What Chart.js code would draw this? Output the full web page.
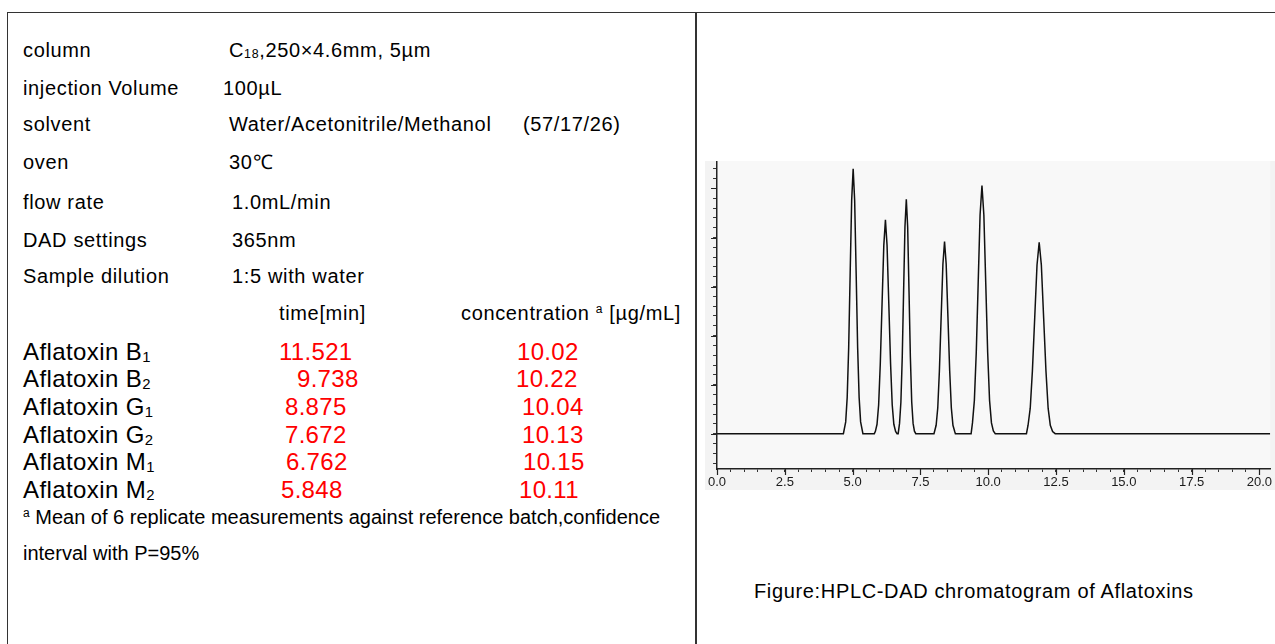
<!DOCTYPE html>
<html>
<head>
<meta charset="utf-8">
<script src="https://cdn.jsdelivr.net/npm/chart.js@4.4.1/dist/chart.umd.min.js"></script>
<style>
  html, body { margin: 0; padding: 0; background: #fff; }
  body { width: 1275px; height: 644px; position: relative; overflow: hidden;
         font-family: "Liberation Sans", Arial, sans-serif; color: #000; }
  .t { position: absolute; white-space: nowrap; font-size: 20px; line-height: 20px; letter-spacing: 0.65px; }
  .note { letter-spacing: 0; }
  .big { font-size: 24px; line-height: 24px; letter-spacing: 0.4px; }
  .red { color: #ff0000; letter-spacing: 0.3px; }
  sub { font-size: 0.62em; vertical-align: -0.12em; line-height: 0; }
  sup { font-size: 0.6em; vertical-align: 0.55em; line-height: 0; }
  #frame { position: absolute; left: 7px; top: 12px; width: 1280px; height: 700px;
           border-top: 1.5px solid #333; border-left: 1.5px solid #333; }
  #divider { position: absolute; left: 695px; top: 12px; width: 1.5px; height: 640px; background: #333; }
  #chrom { position: absolute; left: 705px; top: 161px; }
</style>
</head>
<body>
<div id="frame"></div>
<div id="divider"></div>
<div id="left"></div>
<canvas id="chrom" width="570" height="329"></canvas>
<div class="t" style="left:754px; top:581px;">Figure:HPLC-DAD chromatogram of Aflatoxins</div>

<script>
// --- method parameters ---
const paramLabels = ['column', 'injection Volume', 'solvent', 'oven', 'flow rate', 'DAD settings', 'Sample dilution'];
const paramValues = ['C<sub>18</sub>,250×4.6mm, 5µm', '100µL', 'Water/Acetonitrile/Methanol', '30℃', '1.0mL/min', '365nm', '1:5 with water'];
const solventRatio = '(57/17/26)';

// --- results table ---
const compounds = ['Aflatoxin B<sub>1</sub>', 'Aflatoxin B<sub>2</sub>', 'Aflatoxin G<sub>1</sub>',
                   'Aflatoxin G<sub>2</sub>', 'Aflatoxin M<sub>1</sub>', 'Aflatoxin M<sub>2</sub>'];
const retentionTimes = ['11.521', '9.738', '8.875', '7.672', '6.762', '5.848'];
const concentrations = ['10.02', '10.22', '10.04', '10.13', '10.15', '10.11'];

// --- chromatogram trace (time [min], signal) ---
const traceTime = [
  0, 4.66,
  4.745, 4.80, 4.855, 4.91, 4.965, 5.02, 5.075, 5.13, 5.185, 5.24, 5.295, 5.38,
  5.80, 5.84, 5.90, 5.96, 6.02, 6.085, 6.15, 6.21, 6.27, 6.335, 6.40, 6.46, 6.52, 6.585, 6.64,
  6.68, 6.73, 6.78, 6.83, 6.88, 6.93, 6.98, 7.03, 7.08, 7.13, 7.18, 7.23, 7.28, 7.33,
  8.00, 8.08, 8.14, 8.20, 8.265, 8.33, 8.39, 8.45, 8.515, 8.58, 8.64, 8.70, 8.765, 8.79,
  9.37, 9.42, 9.49, 9.56, 9.63, 9.70, 9.77, 9.84, 9.91, 9.98, 10.05, 10.12, 10.19, 10.26,
  11.41, 11.47, 11.55, 11.63, 11.715, 11.80, 11.88, 11.96, 12.045, 12.13, 12.21, 12.29, 12.375, 12.47,
  20.4
];
const traceSignal = [
  0, 0,
  1.2, 3.7, 8.8, 16.4, 23.8, 27.0, 23.8, 16.4, 8.8, 3.7, 1.2, 0,
  0, 0.24, 0.96, 2.95, 7.1, 13.2, 19.2, 21.8, 19.2, 13.2, 7.1, 2.95, 0.96, 0.24, 0,
  0, 1.05, 3.2, 7.8, 14.5, 21.1, 23.9, 21.1, 14.5, 7.8, 3.2, 1.05, 0.26, 0,
  0, 0.86, 2.65, 6.4, 11.9, 17.3, 19.6, 17.3, 11.9, 6.4, 2.65, 0.86, 0.22, 0,
  0, 1.1, 3.4, 8.3, 15.3, 22.3, 25.3, 22.3, 15.3, 8.3, 3.4, 1.1, 0.28, 0,
  0, 0.86, 2.6, 6.4, 11.8, 17.2, 19.5, 17.2, 11.8, 6.4, 2.6, 0.86, 0.22, 0,
  0
];

// --- layout of the left panel (page px) ---
const paramTop = [40, 78, 114, 152, 192, 230, 266];
const paramValueLeft = [229, 223, 229, 229, 232, 232, 232];
const rowTop = [340, 367, 395, 423, 450, 478];
const timeLeft = [279, 297, 285, 285, 286, 281];
const concLeft = [517, 516, 522, 522, 523, 519];

const left = document.getElementById('left');
function addText(html, x, y, cls) {
  const d = document.createElement('div');
  d.className = 't' + (cls ? ' ' + cls : '');
  d.style.left = x + 'px';
  d.style.top = y + 'px';
  d.innerHTML = html;
  left.appendChild(d);
}

paramLabels.forEach((lab, i) => {
  addText(lab, 23, paramTop[i]);
  addText(paramValues[i], paramValueLeft[i], paramTop[i]);
});
addText(solventRatio, 523, paramTop[2]);

addText('time[min]', 279, 303);
addText('concentration <sup>a</sup> [µg/mL]', 461, 303);

compounds.forEach((name, i) => {
  addText(name, 23, rowTop[i], 'big');
  addText(retentionTimes[i], timeLeft[i], rowTop[i], 'big red');
  addText(concentrations[i], concLeft[i], rowTop[i], 'big red');
});

addText('<sup>a</sup> Mean of 6 replicate measurements against reference batch,confidence', 23, 507, 'note');
addText('interval with P=95%', 23, 543, 'note');

// --- chromatogram ---
const isMultiple = (v, step) => Math.abs(v / step - Math.round(v / step)) < 1e-6;

const background = {
  id: 'background',
  beforeDraw(chart) {
    const { ctx, chartArea } = chart;
    ctx.save();
    ctx.fillStyle = '#f3f3f3';
    ctx.fillRect(0, 0, chart.width, chart.height);
    ctx.fillStyle = '#f8f8f8';
    ctx.fillRect(chartArea.left, chartArea.top, chartArea.right - chartArea.left, chartArea.bottom - chartArea.top);
    ctx.restore();
  }
};

// longer tick marks on the major steps
const majorTicks = {
  id: 'majorTicks',
  afterDraw(chart) {
    const { ctx, chartArea, scales: { x, y } } = chart;
    ctx.save();
    ctx.strokeStyle = '#222';
    ctx.lineWidth = 1.2;
    ctx.beginPath();
    x.ticks.forEach(t => {
      if (isMultiple(t.value, 2.5)) {
        const px = Math.round(x.getPixelForValue(t.value)) + 0.5;
        ctx.moveTo(px, chartArea.bottom);
        ctx.lineTo(px, chartArea.bottom + 6);
      }
    });
    y.ticks.forEach(t => {
      if (isMultiple(t.value, 5)) {
        const py = Math.round(y.getPixelForValue(t.value)) + 0.5;
        ctx.moveTo(chartArea.left - 6, py);
        ctx.lineTo(chartArea.left, py);
      }
    });
    ctx.stroke();
    ctx.restore();
  }
};

new Chart(document.getElementById('chrom'), {
  type: 'line',
  data: {
    datasets: [{
      data: traceTime.map((t, i) => ({ x: t, y: traceSignal[i] })),
      borderColor: '#111',
      borderWidth: 1.5,
      pointRadius: 0,
      tension: 0,
      fill: false
    }]
  },
  options: {
    responsive: false,
    animation: false,
    devicePixelRatio: 1,
    layout: { padding: { top: 0, left: 0, right: 0, bottom: 0 } },
    plugins: { legend: { display: false }, tooltip: { enabled: false } },
    scales: {
      x: {
        type: 'linear',
        min: 0,
        max: 20.4,
        afterFit: s => { s.height = 21; },
        border: { display: true, color: '#222', width: 1.5 },
        grid: { drawOnChartArea: false, drawTicks: true, tickLength: 3, tickColor: '#333', tickWidth: 1 },
        ticks: {
          stepSize: 0.5,
          includeBounds: false,
          autoSkip: false,
          maxRotation: 0,
          padding: 3,
          color: '#1a1a1a',
          font: { family: "'Liberation Sans Narrow', 'Liberation Sans', sans-serif", size: 13 },
          callback: v => isMultiple(v, 2.5) ? v.toFixed(1) : ''
        }
      },
      y: {
        min: -3.6,
        max: 27.8,
        afterFit: s => { s.width = 11; },
        border: { display: true, color: '#222', width: 1.5 },
        grid: { drawOnChartArea: false, drawTicks: true, tickLength: 4, tickColor: '#333', tickWidth: 1 },
        ticks: { stepSize: 1, includeBounds: false, display: false }
      }
    }
  },
  plugins: [background, majorTicks]
});
</script>
</body>
</html>
